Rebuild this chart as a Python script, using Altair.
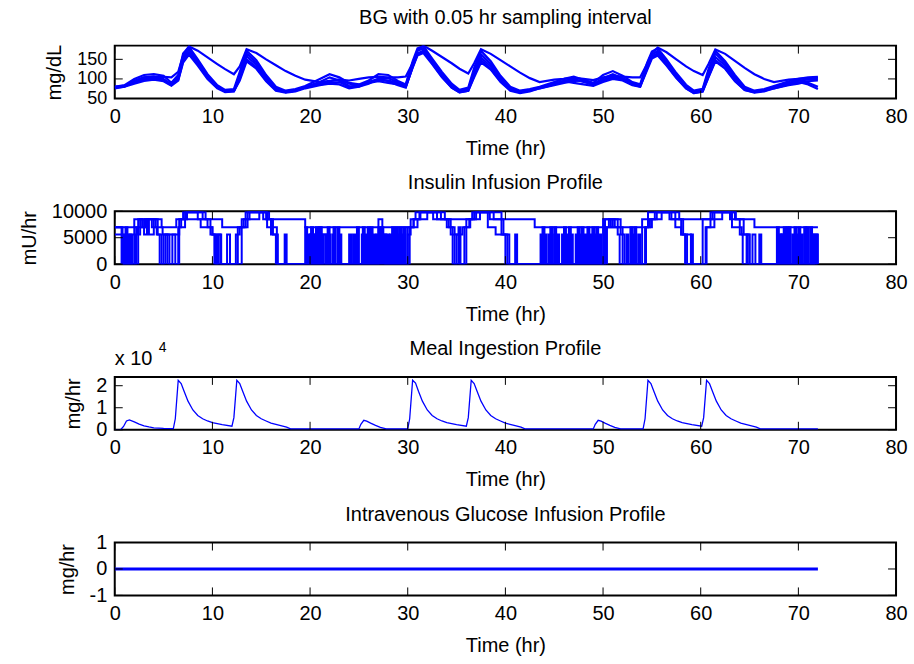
import altair as alt
import pandas as pd

FONT = "Liberation Sans"
FS = 20
BLUE = "#0000ff"
W, H = 783, 53
TICK = 8

X_TICKS = [0, 10, 20, 30, 40, 50, 60, 70, 80]

# ---------------- BG traces (mg/dL) ----------------
T_BG = [0, 1, 2, 3, 4, 5, 5.8, 6.5, 7.0, 7.6, 8.5, 9.5, 10.5, 11.3,
        12.2, 12.8, 13.5, 14.5, 15.5, 16.5, 17.5, 18.5, 19.5, 21, 22, 23,
        24, 25, 26, 27, 28, 29, 29.8, 30.5, 31.0, 31.6, 32.5, 33.5,
        34.5, 35.3, 36.2, 36.8, 37.5, 38.5, 39.5, 40.5, 41.5, 42.5, 43.5,
        45, 46, 47, 48, 49, 50, 51, 52, 53, 53.8,
        54.5, 55.0, 55.6, 56.5, 57.5, 58.5, 59.3, 60.2, 60.8, 61.5, 62.5, 63.5,
        64.5, 65.5, 66.5, 67.5, 69, 70, 71, 72]
BG_S = [78, 82, 95, 104, 106, 105, 104, 118, 160, 183, 172, 155, 138, 125,
        112, 132, 176, 166, 150, 135, 120, 108, 98, 92, 95, 98,
        96, 100, 104, 105, 104, 104, 106, 140, 172, 185, 172, 156,
        140, 126, 114, 140, 176, 164, 148, 132, 116, 102, 92,
        98, 100, 103, 100, 97, 104, 108, 106, 104, 104,
        138, 166, 180, 168, 150, 132, 120, 110, 138, 175, 164, 146,
        128, 112, 100, 92, 98, 100, 102, 103]
BG_F1 = [80, 84, 100, 110, 112, 108, 90, 110, 165, 182, 150, 112, 84, 72,
         74, 118, 172, 148, 110, 80, 70, 74, 82, 100, 112, 104,
         90, 86, 96, 112, 110, 95, 86, 145, 178, 184, 152, 118,
         88, 72, 78, 128, 172, 145, 108, 80, 70, 74, 80,
         92, 100, 106, 98, 90, 110, 120, 108, 92, 86,
         140, 170, 178, 150, 115, 85, 70, 75, 125, 172, 145, 110,
         80, 70, 74, 82, 94, 100, 104, 105]
BG_F2 = [76, 80, 94, 104, 106, 100, 85, 105, 155, 175, 145, 108, 80, 68,
         70, 110, 165, 142, 105, 76, 68, 72, 80, 92, 104, 96,
         82, 80, 88, 100, 102, 92, 84, 140, 172, 178, 148, 112,
         84, 70, 74, 120, 163, 138, 102, 76, 68, 72, 78,
         88, 95, 100, 92, 86, 102, 112, 102, 90, 84,
         132, 162, 172, 145, 110, 80, 68, 72, 118, 165, 140, 104,
         76, 68, 72, 80, 90, 96, 98, 100]
BG_F3 = [80, 82, 92, 98, 100, 96, 84, 100, 150, 168, 140, 105, 78, 68,
         70, 106, 158, 136, 100, 74, 66, 70, 78, 88, 94, 98,
         88, 84, 92, 98, 96, 90, 80, 132, 165, 172, 142, 108,
         80, 68, 72, 115, 155, 132, 98, 74, 66, 70, 76,
         86, 92, 96, 94, 84, 98, 106, 100, 88, 82,
         128, 158, 166, 140, 106, 78, 66, 70, 112, 156, 134, 100,
         74, 66, 70, 78, 88, 96, 90, 80]
BG_F4 = [78, 80, 88, 95, 98, 94, 83, 96, 142, 162, 134, 100, 76, 66,
         68, 100, 150, 130, 96, 72, 66, 70, 78, 86, 90, 92,
         80, 84, 90, 94, 90, 86, 80, 128, 160, 166, 138, 104,
         78, 66, 70, 108, 148, 126, 94, 72, 66, 70, 78,
         88, 94, 90, 86, 82, 92, 100, 96, 84, 80,
         122, 152, 160, 134, 102, 76, 64, 68, 106, 148, 128, 96,
         72, 66, 70, 76, 86, 92, 86, 74]
BG_F5 = [80, 82, 90, 100, 104, 98, 86, 98, 145, 165, 138, 102, 78, 68,
         69, 96, 145, 126, 94, 70, 65, 68, 76, 84, 88, 86,
         76, 80, 92, 100, 94, 84, 78, 130, 162, 170, 140, 106,
         78, 66, 70, 104, 142, 124, 92, 70, 64, 68, 76,
         84, 90, 94, 98, 88, 96, 104, 98, 86, 80,
         126, 156, 164, 136, 104, 76, 64, 68, 104, 145, 126, 94,
         72, 65, 68, 76, 84, 88, 94, 96]

# ---------------- Insulin traces (mU/hr), step changes (time, value) ----------------
INS_A = [(0, 7000), (2.0, 8500), (4.8, 7000), (6.3, 8500), (7.2, 9800), (9.3, 8500),
         (11.0, 7000), (13.0, 8500), (13.8, 9800), (15.8, 8500), (19.5, 7000),
         (30.6, 8500), (31.2, 9800), (33.8, 8500), (36.6, 9800), (39.6, 8500),
         (43.0, 7000), (50.2, 8500), (51.5, 7000), (54.6, 8500), (55.3, 9800),
         (57.8, 8500), (61.2, 9800), (63.5, 8500), (65.5, 7000), (72, 7000)]
INS_B = [(0, 7000), (0.7, 0), (1.0, 5600), (1.2, 0), (1.5, 5600), (1.7, 0), (2.0, 7000),
         (2.3, 5600), (2.6, 8500), (3.0, 5600), (3.3, 8500), (3.8, 7000), (4.3, 5600),
         (4.6, 0), (5.0, 5600), (5.4, 0), (6.5, 7000), (6.8, 8500), (7.4, 9800),
         (8.5, 8500), (9.5, 7000), (10.0, 5600), (10.3, 0), (10.6, 5600), (10.9, 0),
         (12.6, 7000), (13.2, 8500), (13.6, 9800), (15.2, 8500), (16.0, 5600), (16.5, 0),
         (19.7, 5600), (19.9, 0), (20.1, 7000), (20.3, 0), (20.5, 5600), (20.7, 0),
         (20.9, 7000), (21.1, 0), (21.3, 5600), (21.6, 0), (21.8, 7000), (22.0, 0),
         (22.3, 5600), (22.5, 0), (24.0, 5600), (24.2, 0), (24.8, 7000), (25.0, 0),
         (25.6, 5600), (25.8, 0), (26.2, 7000), (26.4, 0), (26.8, 5600), (27.0, 0),
         (27.3, 7000), (27.5, 0), (27.9, 5600), (28.1, 0), (28.4, 7000), (28.6, 0),
         (29.0, 5600), (29.2, 0), (29.6, 7000), (29.8, 0), (30.2, 7000), (30.6, 8500),
         (31.3, 9800), (33.0, 8500), (34.2, 7000), (34.6, 0), (35.0, 5600), (35.3, 0),
         (35.8, 7000), (36.4, 8500), (37.0, 9800), (38.8, 8500), (39.6, 5600), (40.0, 0),
         (44.0, 5600), (44.2, 0), (44.6, 7000), (44.8, 0), (45.3, 5600), (45.5, 0),
         (46.0, 7000), (46.2, 0), (46.7, 5600), (46.9, 0), (47.4, 7000), (47.6, 0),
         (48.1, 5600), (48.3, 0), (48.9, 7000), (49.1, 0), (49.6, 5600), (49.8, 0),
         (50.2, 7000), (50.6, 8500), (51.2, 7000), (52.0, 5600), (52.2, 0), (52.8, 7000),
         (53.0, 0), (53.6, 5600), (53.8, 0), (54.3, 7000), (54.8, 8500), (55.5, 9800),
         (57.0, 8500), (58.2, 5600), (58.6, 0), (60.5, 7000), (61.0, 8500), (61.4, 9800),
         (63.0, 8500), (64.0, 5600), (64.3, 0), (64.7, 5600), (65.0, 0), (68.0, 5600),
         (68.2, 0), (68.5, 7000), (68.7, 0), (69.0, 5600), (69.2, 0), (69.6, 7000),
         (69.8, 0), (70.2, 5600), (70.4, 0), (70.8, 7000), (71.0, 0), (71.4, 5600),
         (71.6, 0), (72.0, 0)]
INS_C = [(0, 7000), (0.8, 0), (1.1, 7000), (1.3, 0), (1.8, 5600), (2.1, 0), (2.4, 8500),
         (2.8, 7000), (3.1, 8500), (3.5, 5600), (4.0, 8500), (4.4, 5600), (4.8, 0),
         (5.2, 5600), (5.6, 0), (5.9, 5600), (6.2, 0), (6.6, 8500), (7.0, 9800),
         (9.0, 8500), (9.8, 5600), (10.2, 0), (10.5, 5600), (10.8, 0), (12.4, 5600),
         (12.8, 7000), (13.4, 9800), (15.5, 8500), (16.2, 5600), (16.7, 0), (19.5, 7000),
         (19.7, 0), (20.0, 5600), (20.2, 0), (20.6, 7000), (20.8, 0), (21.2, 5600),
         (21.4, 0), (21.9, 5600), (22.1, 0), (22.4, 7000), (22.6, 0), (23.0, 5600),
         (23.2, 0), (25.3, 5600), (25.5, 0), (25.9, 7000), (26.1, 0), (26.5, 5600),
         (26.7, 0), (27.0, 8500), (27.4, 5600), (27.7, 0), (28.2, 5600), (28.4, 0),
         (28.8, 7000), (29.0, 0), (29.4, 5600), (29.6, 0), (30.0, 5600), (30.3, 8500),
         (30.8, 9800), (32.6, 8500), (34.4, 5600), (34.8, 0), (35.2, 7000), (35.4, 0),
         (36.0, 8500), (36.8, 9800), (38.4, 8500), (39.8, 5600), (40.2, 0), (43.6, 5600),
         (43.8, 0), (44.4, 5600), (44.6, 0), (45.0, 7000), (45.2, 0), (45.8, 5600),
         (46.0, 0), (46.5, 7000), (46.7, 0), (47.2, 5600), (47.4, 0), (47.8, 7000),
         (48.0, 0), (48.6, 5600), (48.8, 0), (49.3, 7000), (49.5, 0), (50.0, 8500),
         (50.8, 7000), (51.5, 5600), (51.7, 0), (52.4, 5600), (52.6, 0), (53.2, 7000),
         (53.4, 0), (54.0, 8500), (54.6, 9800), (56.8, 8500), (58.0, 5600), (58.4, 0),
         (59.0, 5600), (59.2, 0), (60.2, 8500), (61.0, 9800), (63.6, 8500), (64.4, 5600),
         (64.8, 0), (65.3, 5600), (65.6, 0), (67.8, 7000), (68.0, 0), (68.3, 5600),
         (68.5, 0), (68.8, 7000), (69.0, 0), (69.4, 5600), (69.6, 0), (70.0, 7000),
         (70.2, 0), (70.6, 5600), (70.8, 0), (71.2, 7000), (71.4, 0), (71.8, 5600),
         (72.0, 0)]
INS_D = [(0, 5600), (0.9, 0), (1.4, 5600), (1.6, 0), (2.2, 7000), (3.2, 8500), (4.2, 7000),
         (4.9, 5600), (6.6, 7000), (7.2, 8500), (8.8, 7000), (10.0, 5600), (10.4, 0),
         (11.5, 5600), (11.8, 0), (13.0, 7000), (13.6, 8500), (14.8, 9800), (15.6, 7000),
         (16.6, 0), (17.4, 5600), (17.6, 0), (20.4, 5600), (20.6, 0), (21.0, 7000),
         (21.2, 0), (21.6, 5600), (21.8, 0), (22.8, 7000), (23.0, 0), (24.4, 5600),
         (24.6, 0), (25.4, 7000), (25.6, 0), (26.0, 5600), (26.2, 0), (27.0, 7000),
         (27.2, 0), (27.6, 5600), (27.8, 0), (28.6, 5600), (28.8, 0), (29.2, 7000),
         (29.4, 0), (30.0, 7000), (31.0, 8500), (32.0, 9800), (33.4, 8500), (34.0, 7000),
         (34.8, 5600), (35.6, 7000), (36.3, 8500), (37.4, 9800), (38.2, 7000), (39.0, 5600),
         (40.4, 0), (41.0, 5600), (41.2, 0), (43.8, 7000), (44.0, 0), (45.0, 5600),
         (45.2, 0), (46.2, 5600), (46.4, 0), (47.6, 5600), (47.8, 0), (48.4, 7000),
         (48.6, 0), (49.0, 5600), (49.2, 0), (50.4, 7000), (51.0, 8500), (51.8, 5600),
         (52.0, 0), (53.0, 5600), (53.2, 0), (54.4, 7000), (55.0, 8500), (56.0, 9800),
         (57.4, 7000), (58.0, 5600), (59.0, 0), (60.6, 7000), (61.4, 8500), (62.2, 9800),
         (63.2, 7000), (64.2, 5600), (65.0, 0), (66.0, 5600), (66.2, 0), (68.2, 5600),
         (68.4, 0), (69.0, 7000), (69.2, 0), (69.8, 5600), (70.0, 0), (70.6, 7000),
         (70.8, 0), (71.6, 5600), (72.0, 5600)]

# ---------------- Meal ingestion (mg/hr) ----------------
T_MEAL = [0.0, 0.6, 0.9, 1.2, 1.5, 2.0, 2.5, 3.0, 3.5, 4.0, 5.0, 6.0,
          6.2, 6.5, 6.8, 7.1, 7.5, 8.0, 8.5, 9.0, 9.5, 10.0, 11.0, 12.0,
          12.2, 12.5, 12.8, 13.1, 13.5, 14.0, 14.5, 15.0, 15.5, 16.0, 17.0, 17.6, 18.0,
          25.0, 25.2, 25.5, 25.8, 26.2, 26.7, 27.2, 27.8,
          30.0, 30.2, 30.5, 30.8, 31.1, 31.5, 32.0, 32.5, 33.0, 33.5, 34.0, 35.0, 36.0,
          36.2, 36.5, 36.8, 37.1, 37.5, 38.0, 38.5, 39.0, 39.5, 40.0, 41.0, 41.6, 42.0,
          49.0, 49.2, 49.5, 49.8, 50.2, 50.7, 51.2, 51.8,
          54.1, 54.3, 54.6, 54.9, 55.2, 55.6, 56.1, 56.6, 57.1, 57.6, 58.1, 59.1, 60.1,
          60.3, 60.6, 60.9, 61.2, 61.6, 62.1, 62.6, 63.1, 63.6, 64.1, 65.1, 65.7, 66.1,
          72.0]
MEAL = [0, 0, 1500, 4000, 4500, 3600, 2600, 1800, 1300, 900, 600, 500,
        5000, 22500, 21000, 17500, 13000, 9000, 6500, 5000, 4000, 3200, 2300, 1600,
        5500, 22500, 21000, 17500, 13000, 9000, 6500, 5000, 4000, 3000, 1900, 1200, 400,
        400, 2500, 4300, 3900, 3000, 2000, 1100, 400,
        400, 5000, 22500, 21200, 17500, 13000, 9000, 6500, 5000, 4000, 3200, 2300, 1600,
        5500, 22500, 21000, 17500, 13000, 9000, 6500, 5000, 4000, 3000, 1900, 1200, 400,
        400, 2500, 4300, 3900, 3000, 2000, 1100, 400,
        400, 5000, 22500, 21000, 17500, 13000, 9000, 6500, 5000, 4000, 3200, 2300, 1600,
        5500, 22500, 21000, 17500, 13000, 9000, 6500, 5000, 4000, 3000, 1900, 1200, 400,
        400]

# ---------------- IV glucose infusion (mg/hr) ----------------
T_GLU = [0, 72]
GLU = [0, 0]

TITLES = ["BG with 0.05 hr sampling interval", "Insulin Infusion Profile",
          "Meal Ingestion Profile", "Intravenous Glucose Infusion Profile"]

PLAIN = "replace(format(datum.value, 'd'), '\u2212', '-')"


def long_df(series):
    rows = []
    for name, ts, vs in series:
        for t, v in zip(ts, vs):
            rows.append({"t": t, "v": v, "s": name})
    return pd.DataFrame(rows)


def pairs(name, p):
    return (name, [a for a, _ in p], [b for _, b in p])


def txt(s, x, y, size=FS, align="center"):
    return alt.Chart(pd.DataFrame({"txt": [s]})).mark_text(
        align=align, baseline="middle", fontSize=size, font=FONT, color="black"
    ).encode(text="txt:N", x=alt.value(x), y=alt.value(y))


def panel(df, title, ytitle, ydomain, yvals, sw, interp="linear", label_expr=PLAIN,
          ylabel_size=FS, extra=()):
    xs = alt.Scale(domain=[0, 80], nice=False, zero=False)
    ys = alt.Scale(domain=ydomain, nice=False, zero=False)
    xaxis = alt.Axis(values=X_TICKS, labelExpr=PLAIN, tickSize=0, domain=False, grid=False,
                     labelFlush=False, labelOverlap=False, labelPadding=8, titlePadding=12,
                     title="Time (hr)")
    yaxis = alt.Axis(values=yvals, labelExpr=label_expr, tickSize=0, domain=False, grid=False,
                     labelOverlap=False, labelFlush=False, labelPadding=8, titlePadding=12,
                     labelFontSize=ylabel_size, title=ytitle)
    line = alt.Chart(df).mark_line(color=BLUE, strokeWidth=sw, interpolate=interp, clip=True).encode(
        x=alt.X("t:Q", scale=xs, axis=xaxis),
        y=alt.Y("v:Q", scale=ys, axis=yaxis),
        detail="s:N",
    )
    xdf = pd.DataFrame({"t": X_TICKS})
    ydf = pd.DataFrame({"v": yvals})
    bx = alt.Chart(xdf).mark_rule(color="black", strokeWidth=1)
    by = alt.Chart(ydf).mark_rule(color="black", strokeWidth=1)
    ticks = [
        bx.encode(x=alt.X("t:Q", scale=xs, axis=xaxis), y=alt.value(H), y2=alt.value(H - TICK)),
        bx.encode(x=alt.X("t:Q", scale=xs, axis=xaxis), y=alt.value(0), y2=alt.value(TICK)),
        by.encode(y=alt.Y("v:Q", scale=ys, axis=yaxis), x=alt.value(0), x2=alt.value(TICK)),
        by.encode(y=alt.Y("v:Q", scale=ys, axis=yaxis), x=alt.value(W - TICK), x2=alt.value(W)),
    ]
    layers = [line] + ticks + [txt(title, W / 2, -28)] + list(extra)
    return alt.layer(*layers).properties(width=W, height=H)


bg_df = long_df([("S", T_BG, BG_S), ("F1", T_BG, BG_F1), ("F2", T_BG, BG_F2),
                 ("F3", T_BG, BG_F3), ("F4", T_BG, BG_F4), ("F5", T_BG, BG_F5)])
ins_df = long_df([pairs("A", INS_A), pairs("B", INS_B), pairs("C", INS_C), pairs("D", INS_D)])
meal_df = long_df([("M", T_MEAL, MEAL)])
glu_df = long_df([("G", T_GLU, GLU)])

exp_main = txt("x 10", 0, -18, FS, "left")
exp_sup = txt("4", 44, -29, 14, "left")

p1 = panel(bg_df, TITLES[0], "mg/dL", [50, 185], [50, 100, 150], 2.2, ylabel_size=18)
p2 = panel(ins_df, TITLES[1], "mU/hr", [0, 10000], [0, 5000, 10000], 2, interp="step-after")
p3 = panel(meal_df, TITLES[2], "mg/hr", [0, 24000], [0, 10000, 20000], 1.3,
           label_expr="format(datum.value / 10000, 'd')", extra=(exp_main, exp_sup))
p4 = panel(glu_df, TITLES[3], "mg/hr", [-1, 1], [-1, 0, 1], 3)

chart = alt.vconcat(p1, p2, p3, p4, spacing=13).configure_view(
    stroke="black", strokeWidth=2
).configure_axis(
    labelFont=FONT, labelFontSize=FS, titleFont=FONT, titleFontSize=FS,
    titleFontWeight="normal", labelColor="black", titleColor="black",
).properties(
    padding={"left": 18, "top": 6, "right": 5, "bottom": 5},
    background="white",
)

chart.save("out.html", embed_options={"renderer": "svg", "actions": False})
